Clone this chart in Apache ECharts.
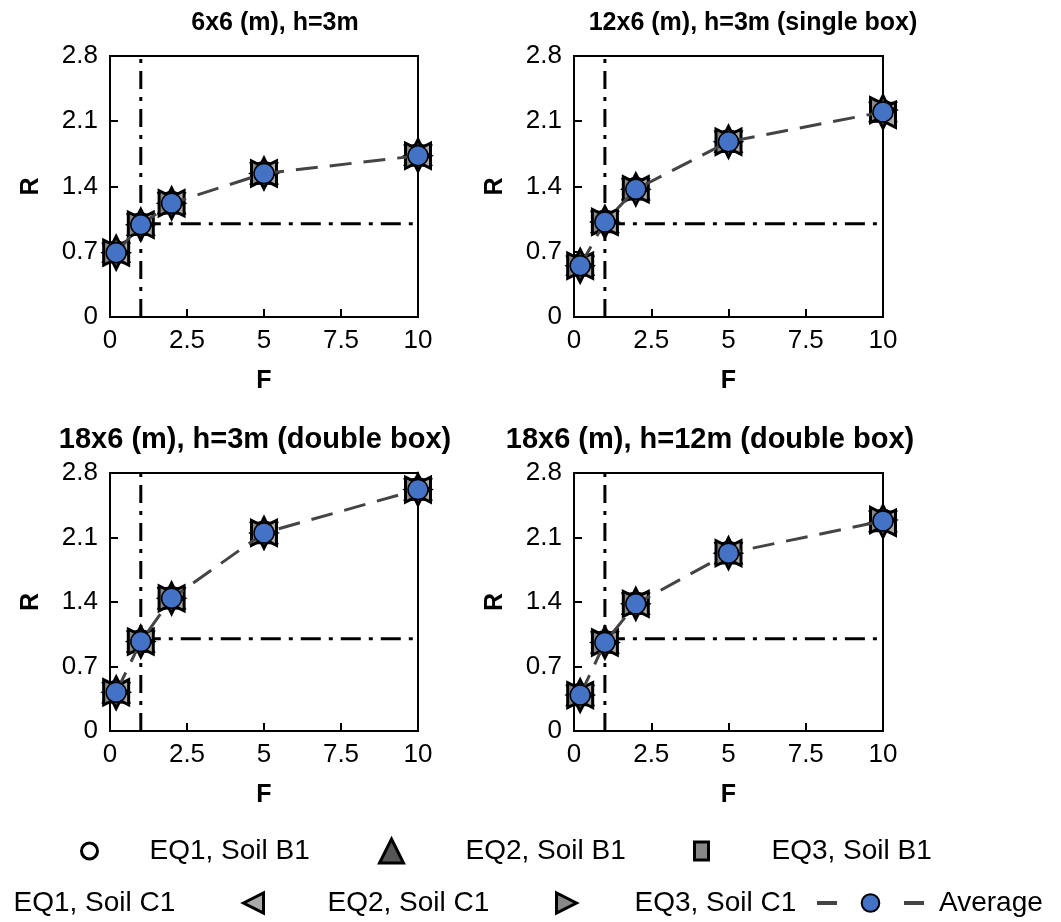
<!DOCTYPE html>
<html><head><meta charset="utf-8">
<script src="https://cdn.jsdelivr.net/npm/echarts@6/dist/echarts.min.js"></script>
<style>html,body{margin:0;padding:0;background:#fff}#c{width:1061px;height:922px}</style>
</head><body><div id="c"></div>
<script>
const F = [0.2, 1, 2, 5, 10];
const titles = ['6x6 (m), h=3m', '12x6 (m), h=3m (single box)', '18x6 (m), h=3m (double box)', '18x6 (m), h=12m (double box)'];
const yTicks = [0, 0.7, 1.4, 2.1, 2.8];
const xTicks = [0, 2.5, 5, 7.5, 10];
const seriesNames = ['EQ1, Soil B1', 'EQ2, Soil B1', 'EQ3, Soil B1', 'EQ1, Soil C1', 'EQ2, Soil C1', 'EQ3, Soil C1', 'Average'];
// values per panel
const eq1B1 = [[0.70,1.00,1.23,1.55,1.74],[0.56,1.03,1.38,1.89,2.21],[0.43,0.98,1.45,2.16,2.63],[0.40,0.97,1.39,1.94,2.29]];
const eq2B1 = [[0.73,1.02,1.25,1.57,1.77],[0.59,1.05,1.40,1.91,2.24],[0.45,1.00,1.47,2.18,2.65],[0.42,0.99,1.41,1.96,2.31]];
const eq3B1 = [[0.68,0.98,1.21,1.53,1.72],[0.54,1.01,1.36,1.87,2.19],[0.41,0.96,1.43,2.14,2.61],[0.38,0.95,1.37,1.92,2.27]];
const eq1C1 = [[0.65,0.96,1.19,1.51,1.70],[0.51,0.99,1.34,1.85,2.16],[0.38,0.94,1.41,2.12,2.59],[0.35,0.93,1.35,1.90,2.24]];
const eq2C1 = [[0.69,0.99,1.22,1.54,1.73],[0.55,1.02,1.37,1.88,2.17],[0.42,0.97,1.44,2.15,2.62],[0.39,0.96,1.38,1.93,2.26]];
const eq3C1 = [[0.69,0.99,1.22,1.54,1.73],[0.55,1.02,1.37,1.88,2.22],[0.42,0.97,1.44,2.15,2.62],[0.39,0.96,1.38,1.93,2.29]];
const average = [[0.69,0.99,1.22,1.54,1.73],[0.55,1.02,1.37,1.88,2.20],[0.42,0.97,1.44,2.15,2.62],[0.39,0.96,1.38,1.93,2.28]];
const refV = [[1, 0], [1, 2.8]];
const refH = [[1, 1], [10, 1]];

const FONT = 'Liberation Sans, Arial, sans-serif';
const grids = [
  {left: 110, top: 56, width: 308, height: 261},
  {left: 574, top: 56, width: 309, height: 261},
  {left: 110, top: 473, width: 308, height: 258},
  {left: 574, top: 473, width: 309, height: 258}
];
const titlePos = [[270, 6, 25], [748, 6, 25], [250, 420, 29], [705, 420, 29]];

const markerDefs = [
  {name: seriesNames[0], data: eq1B1, symbol: 'circle', color: '#ffffff', size: 20, rotate: 0},
  {name: seriesNames[1], data: eq2B1, symbol: 'triangle', color: '#555555', size: 25, rotate: 0},
  {name: seriesNames[2], data: eq3B1, symbol: 'rect', color: '#888888', size: 17, rotate: 0},
  {name: seriesNames[3], data: eq1C1, symbol: 'triangle', color: '#666666', size: 25, rotate: 180},
  {name: seriesNames[4], data: eq2C1, symbol: 'triangle', color: '#aaaaaa', size: 25, rotate: 90},
  {name: seriesNames[5], data: eq3C1, symbol: 'triangle', color: '#888888', size: 25, rotate: -90}
];

const xAxes = [], yAxes = [], series = [], title = [];
grids.forEach((g, i) => {
  xAxes.push({
    type: 'value', gridIndex: i, min: 0, max: 10, interval: 2.5,
    name: 'F', nameLocation: 'middle', nameGap: 52,
    nameTextStyle: {fontFamily: FONT, fontSize: 25, fontWeight: 'bold', color: '#000'},
    axisLine: {show: true, onZero: false, lineStyle: {color: '#000', width: 2}},
    axisTick: {show: true, inside: true, length: 8, lineStyle: {color: '#000', width: 2}},
    axisLabel: {fontFamily: FONT, fontSize: 26, color: '#000', margin: 11, formatter: v => xTicks.includes(v) ? String(v) : ''},
    splitLine: {show: false}
  });
  yAxes.push({
    type: 'value', gridIndex: i, min: 0, max: 2.8, interval: 0.7,
    name: 'R', nameLocation: 'middle', nameGap: 66, nameRotate: 90,
    nameTextStyle: {fontFamily: FONT, fontSize: 25, fontWeight: 'bold', color: '#000'},
    axisLine: {show: true, onZero: false, lineStyle: {color: '#000', width: 2}},
    axisTick: {show: true, inside: true, length: 8, lineStyle: {color: '#000', width: 2}},
    axisLabel: {fontFamily: FONT, fontSize: 26, color: '#000', margin: 12, formatter: v => {
      const t = yTicks.find(y => Math.abs(y - v) < 1e-6); return t === undefined ? '' : (t === 0 ? '0' : t.toFixed(1));
    }},
    splitLine: {show: false}
  });
  title.push({
    text: titles[i], left: titlePos[i][0], top: titlePos[i][1], textAlign: 'center',
    textStyle: {fontFamily: FONT, fontSize: titlePos[i][2], fontWeight: 'bold', color: '#000'}
  });
  series.push({
    type: 'line', xAxisIndex: i, yAxisIndex: i, data: refV, symbol: 'none', silent: true,
    lineStyle: {color: '#000', width: 3, type: [18, 8, 4, 8]}, z: 1
  });
  series.push({
    type: 'line', xAxisIndex: i, yAxisIndex: i, data: refH, symbol: 'none', silent: true,
    lineStyle: {color: '#000', width: 3, type: [20, 8, 4, 8]}, z: 1
  });
  markerDefs.forEach(m => {
    series.push({
      name: m.name, type: 'scatter', xAxisIndex: i, yAxisIndex: i,
      data: F.map((f, k) => [f, m.data[i][k]]),
      symbol: m.symbol, symbolSize: m.size, symbolRotate: m.rotate,
      itemStyle: {color: m.color, borderColor: '#000', borderWidth: 3, opacity: 1}, z: 3
    });
  });
  series.push({
    name: 'Average', type: 'line', xAxisIndex: i, yAxisIndex: i,
    data: F.map((f, k) => [f, average[i][k]]),
    symbol: 'circle', symbolSize: 20, showAllSymbol: true,
    lineStyle: {color: '#444444', width: 3, type: [22, 12]},
    itemStyle: {color: '#4472c4', borderColor: '#000', borderWidth: 1.5}, z: 5
  });
});

const gridOpts = grids.map(g => Object.assign({show: true, borderColor: '#000', borderWidth: 2, backgroundColor: 'transparent'}, g));

const legendTxt = {fontFamily: FONT, fontSize: 28, color: '#000'};
// icon left edge x, text start x, row center y
const legendItems = [
  {name: seriesNames[0], x: 80, tx: 148, row: 0, icon: 'circle', w: 16, h: 20},
  {name: seriesNames[1], x: 378, tx: 464, row: 0, icon: 'triangle', w: 24, h: 24},
  {name: seriesNames[2], x: 693, tx: 770, row: 0, icon: 'rect', w: 14, h: 18},
  {name: seriesNames[3], x: -60, tx: 12, row: 1, icon: 'path://M0,0 L20,0 L10,20 Z', w: 20, h: 24},
  {name: seriesNames[4], x: 242, tx: 326, row: 1, icon: 'path://M0,10 L20,0 L20,20 Z', w: 20, h: 26},
  {name: seriesNames[5], x: 555, tx: 633, row: 1, icon: 'path://M20,10 L0,0 L0,20 Z', w: 20, h: 26}
];
const rowTop = [832, 884];
const legend = legendItems.map(l => ({
  data: [{name: l.name, icon: l.icon, itemStyle: {borderWidth: 3}}], left: l.x - 5, top: rowTop[l.row], orient: 'horizontal',
  itemWidth: l.w, itemHeight: l.h, selectedMode: false,
  textStyle: Object.assign({}, legendTxt, {padding: [0, 0, 0, l.tx - l.x - l.w - 5]})
}));
legend.push({
  data: ['Average'], left: 810, top: rowTop[1], itemWidth: 107, itemHeight: 22, selectedMode: false,
  lineStyle: {type: [20, 67], width: 4, color: '#444444'},
  textStyle: Object.assign({}, legendTxt, {padding: [0, 0, 0, 937 - 815 - 107 - 5]})
});

const chart = echarts.init(document.getElementById('c'), null, {renderer: 'canvas'});
chart.setOption({
  backgroundColor: '#fff',
  animation: false,
  title, grid: gridOpts, xAxis: xAxes, yAxis: yAxes, series, legend
});
</script></body></html>
